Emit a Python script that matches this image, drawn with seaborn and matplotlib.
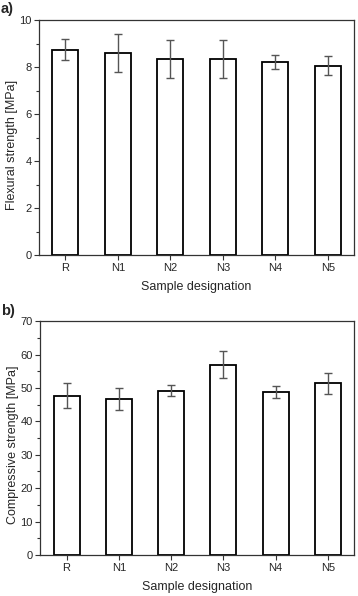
import seaborn as sns
import matplotlib.pyplot as plt
import pandas as pd
from matplotlib.ticker import MultipleLocator

# Datos
muestras = ['R', 'N1', 'N2', 'N3', 'N4', 'N5']
flexion = [8.75, 8.6, 8.36, 8.36, 8.23, 8.07]
flexion_err = [0.45, 0.8, 0.82, 0.82, 0.31, 0.42]
compresion = [47.7, 46.7, 49.2, 57.0, 48.8, 51.4]
compresion_err = [3.8, 3.4, 1.7, 4.0, 1.9, 3.1]

sns.set_style('ticks')
plt.rcParams['font.family'] = ['Liberation Sans', 'DejaVu Sans']

fig = plt.figure(figsize=(3.58, 5.96), dpi=100)
ax1 = fig.add_axes([0.109, 0.572, 0.880, 0.394])
ax2 = fig.add_axes([0.113, 0.069, 0.876, 0.392])


def panel(ax, valores, errores, ylabel, ymax, paso, letra, ytexto):
    datos = pd.DataFrame({'Muestra': muestras, 'Valor': valores})
    sns.barplot(x='Muestra', y='Valor', data=datos, ax=ax, color='white',
                edgecolor='black', linewidth=1.3, width=0.5, errorbar=None)
    ax.errorbar(range(len(muestras)), valores, yerr=errores, fmt='none',
                ecolor='#555555', elinewidth=1.0, capsize=3, capthick=1.0)
    ax.set_xlim(-0.5, 5.5)
    ax.set_ylim(0, ymax)
    ax.yaxis.set_major_locator(MultipleLocator(paso))
    ax.yaxis.set_minor_locator(MultipleLocator(paso / 2))
    ax.tick_params(axis='both', which='major', direction='out', length=3.5,
                   width=0.8, color='#333333', labelsize=8, pad=2)
    ax.tick_params(axis='y', which='minor', direction='out', length=2,
                   width=0.8, color='#333333')
    for s in ax.spines.values():
        s.set_visible(True)
        s.set_color('#333333')
        s.set_linewidth(0.9)
    ax.set_xlabel('Sample designation', fontsize=9, labelpad=6)
    ax.set_ylabel(ylabel, fontsize=9)
    ax.yaxis.set_label_coords(-0.068, 0.47)
    fig.text(0.003, ytexto, letra, fontsize=10.5, fontweight='bold', va='center')


panel(ax1, flexion, flexion_err, 'Flexural strength [MPa]', 10, 2, 'a)', 0.985)
panel(ax2, compresion, compresion_err, 'Compressive strength [MPa]', 70, 10, 'b)', 0.479)

plt.savefig('out.png', dpi=100)
